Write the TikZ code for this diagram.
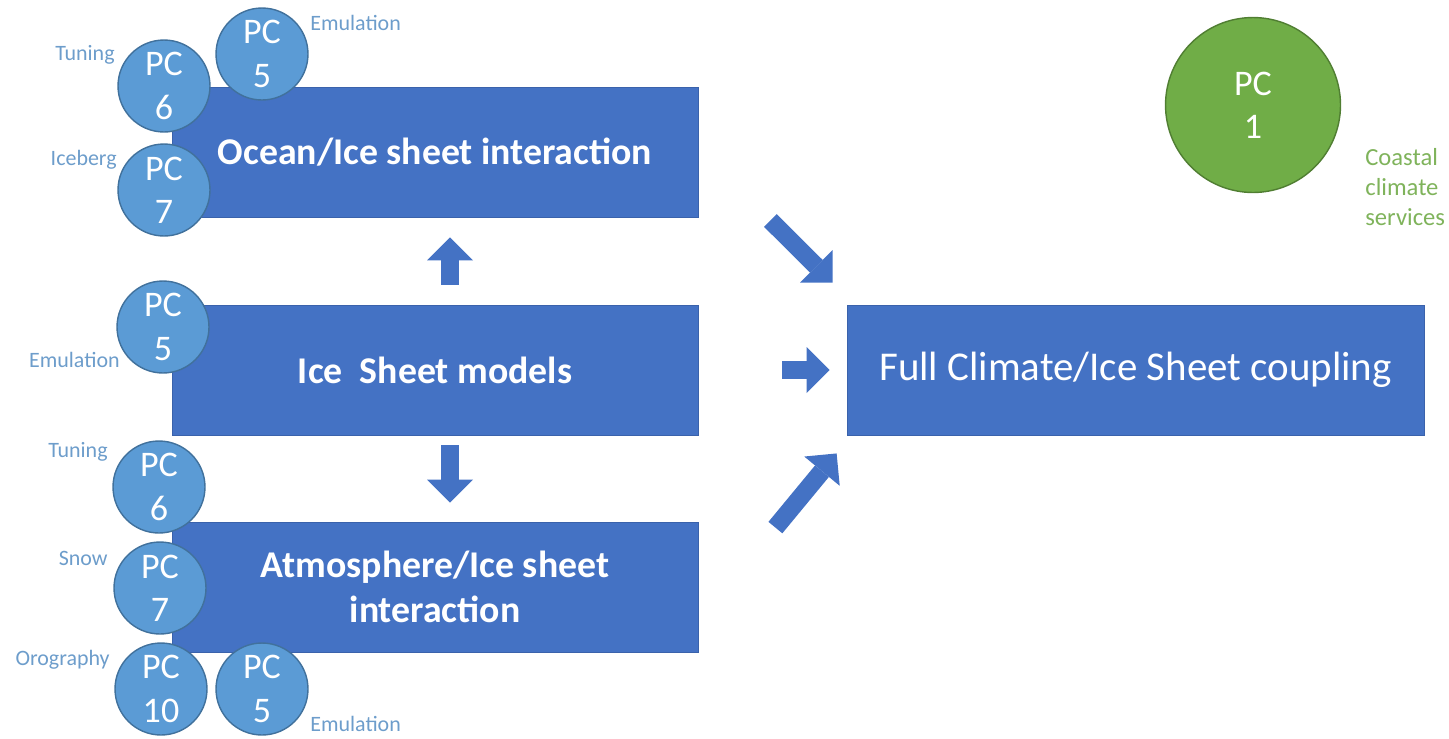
\documentclass[tikz,border=0pt]{standalone}
\usepackage{fontspec}
\setmainfont{Carlito}
\usetikzlibrary{arrows.meta}

\definecolor{boxblue}{HTML}{4472C4}
\definecolor{boxedge}{HTML}{3A62AB}
\definecolor{pcblue}{HTML}{5B9BD5}
\definecolor{pcedge}{HTML}{41719C}
\definecolor{lblblue}{HTML}{6D9DCB}
\definecolor{pcgreen}{HTML}{70AD47}
\definecolor{pcgreenedge}{HTML}{507E32}
\definecolor{lblgreen}{HTML}{7FB35B}

\tikzset{
  model/.style={rectangle, fill=boxblue, draw=boxedge, line width=0.5pt, text=white, align=center,
    minimum width=10.52cm, minimum height=2.6cm, font=\fontsize{21.5}{26}\selectfont\bfseries},
  pc/.style={circle, fill=pcblue, draw=pcedge, line width=0.8pt, text=white, align=center,
    minimum size=1.84cm, inner sep=0pt, font=\fontsize{20.5}{24.6}\selectfont},
  task/.style={font=\fontsize{12.5}{15}\selectfont, text=lblblue, inner sep=0pt},
  flow/.style={boxblue, line width=0.36cm, -{Triangle[length=0.46cm, width=0.92cm, line width=0pt]}}
}

\begin{document}
\begin{tikzpicture}[x=0.02cm, y=-0.02cm]
        \useasboundingbox (0,0) rectangle (1449,738);

        % model boxes
        \node[model] (ocean) at (435,152) {Ocean/Ice sheet interaction};
        \node[model] (ism) at (435,370) {Ice\ \ Sheet models};
        \node[model] (atm) at (435,587) {Atmosphere/Ice sheet\\interaction};
        \node[model, minimum width=11.54cm, font=\fontsize{23.3}{28}\selectfont] (full) at (1135.5,370) {Full Climate/Ice Sheet coupling};

        % arrows between the boxes
        \draw[flow] ([shift={(15,-20)}]ism.north) -- ([shift={(15,20)}]ocean.south);
        \draw[flow] ([shift={(15,10)}]ism.south) -- ([shift={(15,-19)}]atm.north);
        \draw[flow] ([shift={(84,0)}]ism.east) -- ([shift={(-17,0)}]full.west);
        \draw[flow] ([shift={(72,3)}]ocean.south east) -- ([shift={(-14,-22)}]full.north west);
        \draw[flow] ([shift={(77,6)}]atm.north east) -- ([shift={(-10,18)}]full.south west);

        % project circles
        \node[pc] (pc6a) at (164,86) {PC\\6};
        \node[pc] (pc5a) at (262,54) {PC\\5};
        \node[pc] (pc7a) at (164,190) {PC\\7};
        \node[pc] (pc5b) at (163,327) {PC\\5};
        \node[pc] (pc6b) at (159,487) {PC\\6};
        \node[pc] (pc7b) at (160,588) {PC\\7};
        \node[pc] (pc10) at (161,689) {PC\\10};
        \node[pc] (pc5c) at (262,689) {PC\\5};
        \node[pc, fill=pcgreen, draw=pcgreenedge, minimum size=3.5cm] (pc1) at (1253,105) {PC\\1};

        % what each circle stands for
        \node[task, anchor=east] (tuneA) at (115,55) {Tuning};
        \node[task, anchor=west] (emuA) at (310,23) {Emulation};
        \node[task, anchor=east] (iceberg) at (117,160) {Iceberg};
        \node[task, anchor=east] (emuB) at (120,360) {Emulation};
        \node[task, anchor=east] (tuneB) at (108,452) {Tuning};
        \node[task, anchor=east] (snow) at (108,558) {Snow};
        \node[task, anchor=east] (oro) at (110,660) {Orography};
        \node[task, anchor=west] (emuC) at (310,724) {Emulation};
        \node[task, anchor=west, align=left, text=lblgreen, font=\fontsize{14}{17}\selectfont] (coastal) at (1365,187) {Coastal\\climate\\services};
\end{tikzpicture}
\end{document}
